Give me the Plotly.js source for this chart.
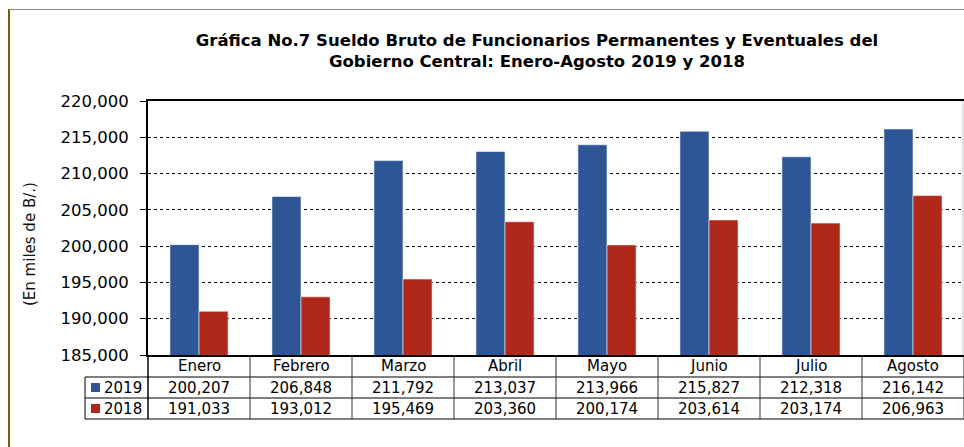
<!DOCTYPE html>
<html>
<head>
<meta charset="utf-8">
<script src="https://cdn.plot.ly/plotly-3.0.1.min.js"></script>
<style>html,body{margin:0;padding:0;background:#fff;}#chart{width:964px;height:447px;}</style>
</head>
<body>
<div id="chart"></div>
<script>
const months = ['Enero','Febrero','Marzo','Abril','Mayo','Junio','Julio','Agosto'];
const series2019 = [200207, 206848, 211792, 213037, 213966, 215827, 212318, 216142];
const series2018 = [191033, 193012, 195469, 203360, 200174, 203614, 203174, 206963];
const seriesNames = ['2019', '2018'];
const colors = ['#2e5596', '#b0281a'];

const W = 964, H = 447, L = 148, R = 964, T = 101, B = 355;
const py = p => (B - p) / (B - T);
const px = p => (p - L) / (R - L);
const FONT = 'DejaVu Sans, Verdana, sans-serif';
const fmt = v => v.toLocaleString('en-US');

const traces = [series2019, series2018].map((vals, i) => ({
  type: 'bar', x: months, y: vals, name: seriesNames[i],
  marker: {color: colors[i], line: {color: 'rgba(255,255,255,0.55)', width: 1}},
  hoverinfo: 'skip'
}));

const shapes = [];
const annotations = [];
const line = (xref, x0, x1, y0, y1, color, width) => shapes.push({
  type: 'line', xref: xref, yref: 'paper', x0: x0, x1: x1, y0: y0, y1: y1,
  line: {color: color || '#000', width: width || 1}
});

// outer frame
line('paper', px(9), px(9), py(9), py(447), '#6e6405', 2);
line('paper', px(9), 1, py(9.5), py(9.5), '#8a8a8a', 1);
line('paper', px(963), px(963), py(101), py(355), '#c8c8c8', 1);

// table horizontal lines
[377, 398, 419].forEach(p => line('paper', px(85), 1, py(p), py(p), '#000', 1));
// table vertical lines
line('paper', px(85), px(85), py(377), py(419), '#000', 1);
line('paper', 0, 0, py(355), py(419), '#000', 1.5);
for (let i = 0; i < months.length; i++) {
  line('x', i + 0.5, i + 0.5, py(355), py(419), '#333', 1);
}

// table text
const rowY = [py(387.5), py(408.5)];
months.forEach((m, i) => {
  annotations.push({xref: 'x', yref: 'paper', x: m, y: py(366), text: m, showarrow: false,
    font: {family: FONT, size: 15, color: '#000'}, xanchor: 'center', yanchor: 'middle'});
  [series2019, series2018].forEach((vals, s) => {
    annotations.push({xref: 'x', yref: 'paper', x: m, y: rowY[s], text: fmt(vals[i]),
      showarrow: false, font: {family: FONT, size: 15, color: '#000'}, xanchor: 'center', yanchor: 'middle'});
  });
});
// legend keys
seriesNames.forEach((n, s) => {
  shapes.push({type: 'rect', xref: 'paper', yref: 'paper', x0: px(91), x1: px(100),
    y0: rowY[s] - 4.5 / (B - T), y1: rowY[s] + 4.5 / (B - T), fillcolor: colors[s], line: {width: 0}});
  annotations.push({xref: 'paper', yref: 'paper', x: px(102), y: rowY[s], text: n, showarrow: false,
    font: {family: FONT, size: 15, color: '#000'}, xanchor: 'left', yanchor: 'middle'});
});

// y title
annotations.push({xref: 'paper', yref: 'paper', x: px(30), y: py(244), text: '(En miles de B/.)',
  textangle: -90, showarrow: false, font: {family: FONT, size: 15, color: '#111'},
  xanchor: 'center', yanchor: 'middle'});

const layout = {
  width: W, height: H,
  margin: {l: L, r: W - R, t: T, b: H - B, pad: 0},
  paper_bgcolor: '#fff', plot_bgcolor: '#fff',
  showlegend: false,
  bargap: 0.43, bargroupgap: 0,
  title: {
    text: '<b>Gráfica No.7 Sueldo Bruto de Funcionarios Permanentes y Eventuales del<br>Gobierno Central: Enero-Agosto 2019 y 2018</b>',
    font: {family: FONT, size: 16.5, color: '#000'},
    x: 537 / W, xanchor: 'center', y: 1 - 46 / H, yanchor: 'middle', xref: 'container', yref: 'container'
  },
  xaxis: {
    type: 'category', showticklabels: false, ticks: '', showgrid: false,
    showline: true, linecolor: '#000', linewidth: 2, mirror: true, zeroline: false,
    range: [-0.5, months.length - 0.5]
  },
  yaxis: {
    range: [185000, 220000], dtick: 5000, tick0: 185000, tickformat: ',d',
    ticks: 'outside', ticklen: 6, tickcolor: '#000', tickwidth: 1,
    showline: true, linecolor: '#000', linewidth: 2,
    showgrid: true, gridcolor: '#000', griddash: 'dot', gridwidth: 1,
    zeroline: false, ticklabelstandoff: 8,
    tickfont: {family: FONT, size: 16.5, color: '#000'}
  },
  shapes: shapes,
  annotations: annotations
};

Plotly.newPlot('chart', traces, layout, {displayModeBar: false, staticPlot: true});
</script>
</body>
</html>
